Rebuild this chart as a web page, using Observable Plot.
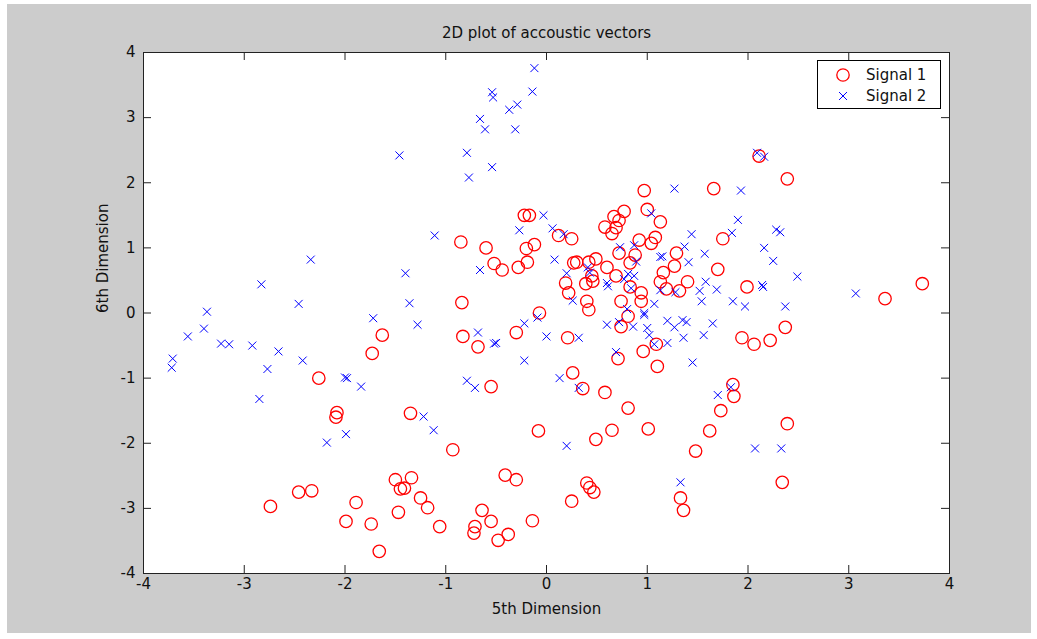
<!DOCTYPE html>
<html><head><meta charset="utf-8">
<script src="https://cdn.jsdelivr.net/npm/d3@7"></script>
<script src="https://cdn.jsdelivr.net/npm/@observablehq/plot@0.6"></script>
<style>
html,body{margin:0;padding:0;background:#fff;}
#wrap{position:relative;width:1037px;height:639px;overflow:hidden;}
#bg{position:absolute;left:7px;top:4px;right:6px;bottom:6px;background:#cccccc;}
#chart{position:absolute;left:0;top:0;}
#legend{position:absolute;left:817px;top:60px;width:122px;height:47px;background:#fff;border:1px solid #000;}
#legend svg{position:absolute;left:0;top:0;}
</style>
</head><body>
<div id="wrap"><div id="bg"></div><div id="chart"></div><div id="legend"></div></div>
<script>
const titleText = "2D plot of accoustic vectors";
const xLabelText = "5th Dimension";
const yLabelText = "6th Dimension";
const seriesNames = ["Signal 1", "Signal 2"];
const xTicks = [-4,-3,-2,-1,0,1,2,3,4];
const yTicks = [-4,-3,-2,-1,0,1,2,3,4];

const s1x = [-1.63,-1.73,-2.26,-2.08,-2.09,-1.35,-2.74,-2.46,-2.33,-1.89,-1.99,-1.74,-1.66,-1.47,-1.50,-1.45,-1.41,-1.34,-1.25,-1.18,
 -1.06,-0.93,-0.41,-0.30,-0.64,-0.55,-0.71,-0.72,-0.48,-0.38,-0.14,0.25,0.40,0.43,0.47,-0.08,0.49,0.65,1.01,-0.07,
 0.81,0.74,-0.83,-0.68,-0.30,0.21,0.96,1.09,1.10,0.71,-0.55,0.26,0.36,0.58,0.81,1.94,2.06,2.22,2.37,1.85,
 1.86,1.73,1.62,1.48,2.39,2.34,1.33,1.36,2.11,2.39,1.66,1.75,1.70,1.40,1.32,1.99,3.36,3.73,0.97,-0.22,
 -0.17,-0.85,-0.60,-0.20,-0.12,0.12,0.25,-0.52,-0.44,-0.28,-0.19,-0.84,1.00,1.13,0.77,0.67,0.72,0.58,0.69,0.65,
 1.08,1.04,0.92,0.72,0.88,0.83,1.29,1.27,1.16,1.13,1.19,0.27,0.30,0.42,0.49,0.60,0.69,0.45,0.46,0.39,
 0.19,0.22,0.40,0.42,0.74,0.83,0.94,0.94];
const s1y = [-0.34,-0.62,-1.00,-1.53,-1.60,-1.54,-2.97,-2.75,-2.73,-2.91,-3.20,-3.24,-3.66,-3.06,-2.56,-2.70,-2.69,-2.53,-2.84,-2.99,
 -3.28,-2.10,-2.49,-2.56,-3.03,-3.20,-3.28,-3.38,-3.49,-3.40,-3.19,-2.89,-2.61,-2.68,-2.75,-1.81,-1.94,-1.80,-1.78,0.00,
 -0.05,-0.21,-0.36,-0.52,-0.30,-0.38,-0.59,-0.48,-0.82,-0.70,-1.13,-0.92,-1.16,-1.22,-1.46,-0.38,-0.48,-0.42,-0.22,-1.10,
 -1.28,-1.50,-1.81,-2.12,-1.70,-2.60,-2.84,-3.03,2.41,2.06,1.91,1.14,0.67,0.48,0.34,0.40,0.22,0.45,1.88,1.50,
 1.50,1.09,1.00,0.99,1.05,1.19,1.14,0.76,0.66,0.70,0.78,0.16,1.59,1.40,1.56,1.48,1.42,1.32,1.31,1.22,
 1.16,1.07,1.12,0.92,0.89,0.77,0.92,0.72,0.62,0.48,0.37,0.77,0.78,0.78,0.83,0.70,0.57,0.57,0.49,0.45,
 0.46,0.31,0.18,0.05,0.18,0.40,0.31,0.18];

const s2x = [-1.46,-2.34,-1.40,-2.83,-2.46,-3.37,-1.36,-0.12,-0.54,-0.53,-0.14,-0.37,-0.29,-0.66,-0.61,-0.31,-0.79,-0.54,-0.77,1.27,
 -0.03,-0.27,0.06,0.17,-1.11,1.04,0.73,0.87,1.13,1.15,0.89,0.08,-0.66,0.20,0.41,0.43,0.60,0.61,0.81,0.87,
 0.77,0.84,1.13,1.28,0.26,1.07,0.80,0.97,2.09,2.16,1.93,1.90,1.84,1.44,2.28,2.32,1.37,2.16,1.57,1.41,
 2.25,2.49,1.58,2.14,2.15,1.52,1.69,1.54,1.85,1.97,2.37,3.07,-3.56,-3.40,-3.71,-3.72,-3.23,-3.15,-2.92,-2.66,
 -2.77,-2.42,-2.85,-1.72,-2.00,-1.98,-1.84,-1.99,-2.18,-1.28,-0.68,-0.52,-0.50,-0.22,-0.09,-0.22,0.00,0.32,-0.79,-0.71,
 -1.22,-1.12,0.13,0.32,0.20,0.60,0.72,0.86,0.97,1.00,1.02,1.07,1.20,1.27,1.20,0.69,1.35,1.39,1.65,1.36,
 1.56,1.45,1.83,1.70,2.07,2.33,1.33];
const s2y = [2.42,0.82,0.61,0.44,0.14,0.02,0.15,3.76,3.39,3.31,3.40,3.12,3.20,2.98,2.82,2.82,2.46,2.24,2.08,1.91,
 1.50,1.27,1.30,1.21,1.19,1.53,1.01,1.04,0.86,0.87,0.79,0.82,0.66,0.61,0.70,0.62,0.46,0.41,0.60,0.57,
 0.52,0.38,0.35,0.32,0.19,0.14,0.06,0.00,2.46,2.40,1.88,1.43,1.23,1.21,1.28,1.24,1.02,1.00,0.91,0.78,
 0.80,0.56,0.48,0.43,0.40,0.34,0.36,0.18,0.18,0.10,0.10,0.30,-0.36,-0.24,-0.70,-0.84,-0.47,-0.48,-0.50,-0.59,
 -0.86,-0.73,-1.32,-0.08,-0.99,-1.00,-1.13,-1.86,-1.99,-0.18,-0.30,-0.47,-0.46,-0.16,-0.07,-0.73,-0.36,-0.38,-1.04,-1.15,
 -1.59,-1.80,-1.00,-1.15,-2.04,-0.18,-0.14,-0.21,-0.03,-0.23,-0.34,-0.48,-0.12,-0.22,-0.46,-0.60,-0.11,-0.14,-0.16,-0.38,
 -0.34,-0.76,-1.14,-1.26,-2.08,-2.08,-2.60];

const s1 = s1x.map((x,i)=>({x, y:s1y[i]}));
const s2 = s2x.map((x,i)=>({x, y:s2y[i]}));

const W = 1037, H = 639;
const mL = 143, mR = 88, mT = 52, mB = 66;
const fw = W - mL - mR, fh = H - mT - mB;
const font = "'DejaVu Sans', 'Liberation Sans', Arial, sans-serif";
const fs = 15;
const fmt = d => String(d);
const circleR = 6.2, timesR = 3.7;

const chart = Plot.plot({
  width: W, height: H,
  marginLeft: mL, marginRight: mR, marginTop: mT, marginBottom: mB,
  style: {background: "transparent", fontFamily: font, fontSize: fs + "px", color: "#111"},
  x: {domain: [-4, 4]},
  y: {domain: [-4, 4]},
  marks: [
    Plot.frame({fill: "white", stroke: "none"}),
    Plot.dot(s1, {x: "x", y: "y", r: circleR, stroke: "#ff0000", strokeWidth: 1.3, fill: "none"}),
    Plot.dot(s2, {x: "x", y: "y", symbol: "times", r: timesR, stroke: "#0000ff", strokeWidth: 1}),
    Plot.tickX(xTicks, {x: d => d, insetTop: fh - 8, stroke: "#222"}),
    Plot.tickX(xTicks, {x: d => d, insetBottom: fh - 8, stroke: "#222"}),
    Plot.tickY(yTicks, {y: d => d, insetRight: fw - 8, stroke: "#222"}),
    Plot.tickY(yTicks, {y: d => d, insetLeft: fw - 8, stroke: "#222"}),
    Plot.frame({stroke: "#222", strokeWidth: 1}),
    Plot.axisX(xTicks, {tickSize: 0, tickPadding: 5, label: null, tickFormat: fmt, fontSize: fs, fill: "#111"}),
    Plot.axisY(yTicks, {tickSize: 0, tickPadding: 8, label: null, tickFormat: fmt, fontSize: fs, fill: "#111"}),
    Plot.text([titleText], {frameAnchor: "top", dy: -19, fontSize: fs, fill: "#111", lineAnchor: "middle"}),
    Plot.text([xLabelText], {frameAnchor: "bottom", dy: 36, fontSize: fs, fill: "#111", lineAnchor: "middle"}),
    Plot.text([yLabelText], {frameAnchor: "left", dx: -40, rotate: -90, fontSize: fs, fill: "#111", lineAnchor: "middle"})
  ]
});
document.getElementById("chart").appendChild(chart);

// legend
const leg = d3.select("#legend").append("svg").attr("width", 122).attr("height", 47);
leg.append("circle").attr("cx", 25).attr("cy", 14).attr("r", circleR).attr("fill", "none").attr("stroke", "#ff0000").attr("stroke-width", 1.3);
leg.append("path").attr("d", d3.symbol(d3.symbolTimes, Math.PI * timesR * timesR)()).attr("transform", "translate(25,35)").attr("fill", "none").attr("stroke", "#0000ff").attr("stroke-width", 1);
leg.selectAll("text.lab").data(seriesNames).join("text").attr("class", "lab")
  .attr("x", 48).attr("y", (d, i) => 14 + i * 21).attr("dy", "0.35em")
  .attr("font-family", font).attr("font-size", fs).attr("fill", "#111").text(d => d);
</script>
</body></html>
